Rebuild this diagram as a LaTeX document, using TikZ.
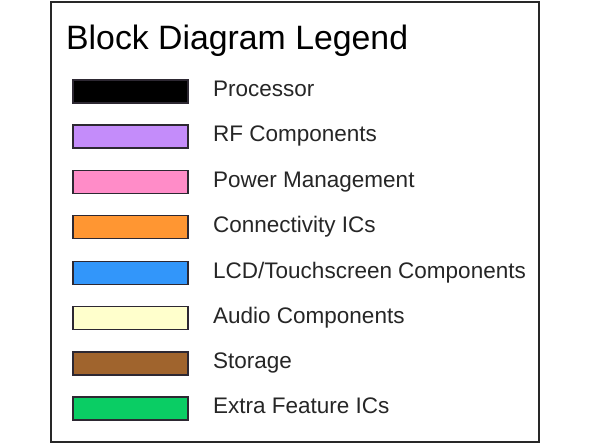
\documentclass[tikz,border=0pt]{standalone}
\usepackage{fontspec}
\setmainfont{Liberation Sans}
\usepackage{tikz}
\usetikzlibrary{positioning}
\usepackage{xcolor}
\definecolor{lgframe}{RGB}{40,40,40}
\definecolor{lgedge}{RGB}{45,40,50}
\definecolor{lgproc}{RGB}{0,0,0}
\definecolor{lgrf}{RGB}{196,140,250}
\definecolor{lgpower}{RGB}{255,140,200}
\definecolor{lgconn}{RGB}{255,150,50}
\definecolor{lglcd}{RGB}{50,150,250}
\definecolor{lgaudio}{RGB}{255,255,204}
\definecolor{lgstore}{RGB}{160,100,45}
\definecolor{lgextra}{RGB}{10,205,100}
\tikzstyle{swatch} = [rectangle, minimum width=115pt, minimum height=23pt, inner sep=0pt, draw=lgedge, line width=1.5pt]
\tikzstyle{legtext} = [anchor=base west, inner sep=0pt, font=\fontsize{22.5}{27}\selectfont, text=black!85]

\begin{document}
\begin{tikzpicture}[x=1pt, y=-1pt]
    \useasboundingbox (0,0) rectangle (592,444);
    % frame
    \node[draw=lgframe, line width=1.5pt, fill=white, minimum width=488pt, minimum height=440pt, inner sep=0pt] (frame) at (295,222) {};

    % title
    \node[anchor=base west, inner sep=0pt, font=\fontsize{33.8}{40}\selectfont] (title) at (66,50) {Block Diagram Legend};

    % swatches
    \node[swatch, fill=lgproc] (proc) at (130.5,91.5) {};
    \node[swatch, fill=lgrf] (rf) at (130.5,136.5) {};
    \node[swatch, fill=lgpower] (power) at (130.5,182) {};
    \node[swatch, fill=lgconn] (conn) at (130.5,227) {};
    \node[swatch, fill=lglcd] (lcd) at (130.5,273) {};
    \node[swatch, fill=lgaudio] (audio) at (130.5,318) {};
    \node[swatch, fill=lgstore] (store) at (130.5,363.5) {};
    \node[swatch, fill=lgextra] (extra) at (130.5,408.5) {};

    % labels
    \node[legtext] (tproc) at (213,96.5) {Processor};
    \node[legtext] (trf) at (213,141.5) {RF Components};
    \node[legtext] (tpower) at (213,187) {Power Management};
    \node[legtext] (tconn) at (213,232) {Connectivity ICs};
    \node[legtext] (tlcd) at (213,278) {LCD/Touchscreen Components};
    \node[legtext] (taudio) at (213,323) {Audio Components};
    \node[legtext] (tstore) at (213,368.5) {Storage};
    \node[legtext] (textra) at (213,413.5) {Extra Feature ICs};
\end{tikzpicture}
\end{document}
